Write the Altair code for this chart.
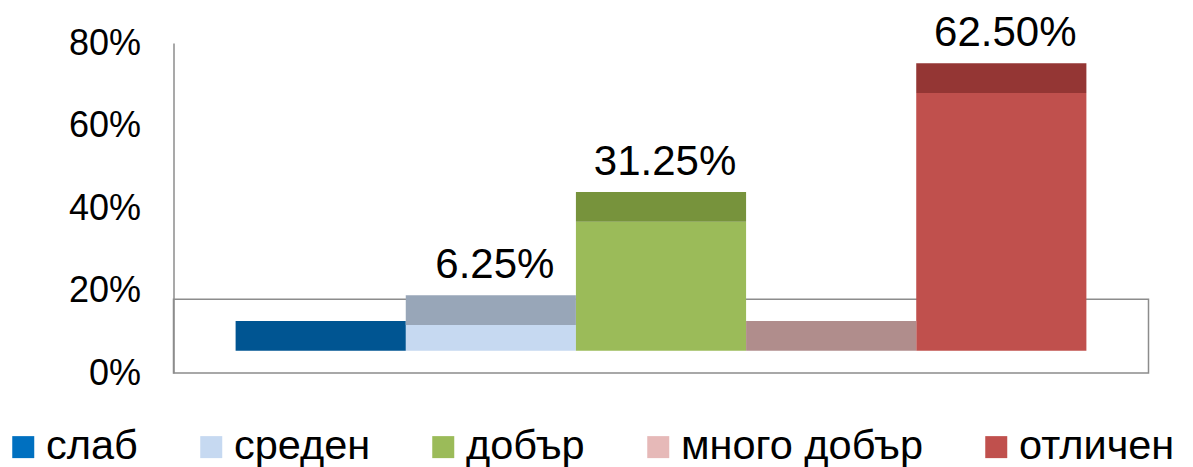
import altair as alt
import pandas as pd

categories = ["слаб", "среден", "добър", "много добър", "отличен"]
values = [0.0, 0.0625, 0.3125, 0.0, 0.625]
front_colors = ["#0070C0", "#C6D9F1", "#9BBB59", "#E6B9B8", "#C0504D"]
top_colors = ["#005592", "#98A6B8", "#77933C", "#B08D8C", "#943634"]
y_ticks = [0, 0.2, 0.4, 0.6, 0.8]

# 3D style constants (in y-axis units)
BASE = 0.054   # offset of the bar base above the floor front edge
DEPTH = 0.072  # visible depth of bar top faces
FLOOR = 0.179  # depth of the floor
W, H = 975, 330
FONT = "Liberation Sans"

df = pd.DataFrame({"cat": categories, "value": values, "top": top_colors})
df["y0"] = BASE
df["y1"] = BASE + df["value"]
df["y2"] = df["y1"] + DEPTH
df["label"] = df["value"].map(lambda v: f"{v * 100:.2f}%")

y_scale = alt.Scale(domain=[0, 0.8], nice=False, zero=True)
y_axis = alt.Axis(values=y_ticks, format=".0%", title=None)
x_enc = alt.X("cat:N", sort=categories,
              scale=alt.Scale(paddingInner=0, paddingOuter=0.365), axis=None)

floor_df = pd.DataFrame({"a": [0.0], "b": [FLOOR]})
floor = alt.Chart(floor_df).mark_rect(
    fill="white", fillOpacity=0, stroke="#8C8C8C", strokeWidth=1.5
).encode(
    x=alt.value(0), x2=alt.value(W),
    y=alt.Y("a:Q", scale=y_scale, axis=y_axis),
    y2="b:Q",
)

front = alt.Chart(df).mark_bar().encode(
    x=x_enc,
    y=alt.Y("y0:Q", scale=y_scale, axis=y_axis),
    y2="y1:Q",
    color=alt.Color(
        "cat:N", sort=categories,
        scale=alt.Scale(domain=categories, range=front_colors),
        legend=alt.Legend(
            title=None, orient="none", direction="horizontal",
            legendX=-171, legendY=383, symbolType="square", symbolSize=484,
            symbolStrokeWidth=0, labelFontSize=41.5, labelFont=FONT,
            labelColor="black", labelOffset=2, columnPadding=52,
            labelLimit=500, padding=0,
        ),
    ),
)

top = alt.Chart(df).mark_bar().encode(
    x=x_enc,
    y=alt.Y("y1:Q", scale=y_scale, axis=y_axis),
    y2="y2:Q",
    fill=alt.Fill("top:N", scale=None),
)

labels = alt.Chart(df).transform_filter("datum.value > 0").mark_text(
    fontSize=42, font=FONT, color="black", baseline="alphabetic", dy=-17, dx=4
).encode(
    x=x_enc,
    y=alt.Y("y2:Q", scale=y_scale, axis=y_axis),
    text="label:N",
)

chart = alt.layer(floor, front, top, labels).properties(
    width=W, height=H,
    autosize=alt.AutoSizeParams(type="none"),
    padding={"left": 165.5, "top": 35, "right": 36, "bottom": 96},
).configure_view(strokeWidth=0).configure_axis(
    labelFontSize=36, labelFont=FONT, labelColor="black",
    domainColor="#8C8C8C", domainWidth=1.5, ticks=False,
    labelPadding=33, grid=False,
)

chart.save("out.html", embed_options={"renderer": "svg", "actions": False})
